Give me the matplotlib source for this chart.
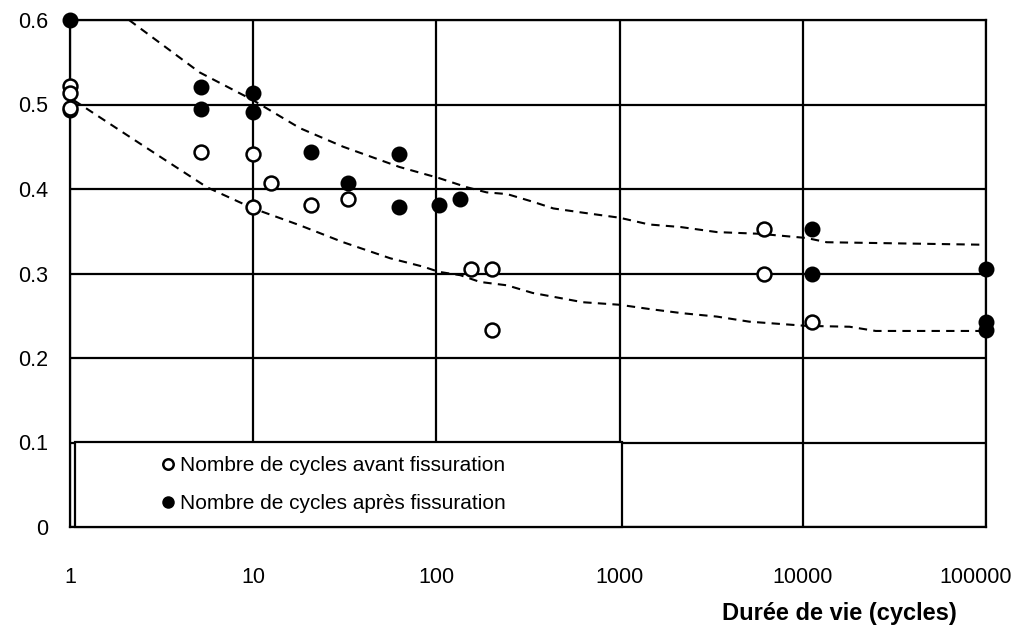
import matplotlib
matplotlib.use('Agg')
import matplotlib.pyplot as plt
import matplotlib.transforms as mtransforms

# Points: number of cycles before cracking (open circles)
avant_x = [1, 1, 1, 5.2, 10, 12.5, 10, 20.7, 33, 155, 201, 201, 6150, 6150, 11200]
avant_y = [0.522, 0.514, 0.496, 0.444, 0.441, 0.407, 0.379, 0.381, 0.388,
           0.305, 0.305, 0.233, 0.353, 0.299, 0.243]

# Points: number of cycles after cracking (filled circles)
apres_x = [1, 1, 5.2, 5.2, 10, 10, 20.7, 33, 62.5, 62.5, 103, 135,
           11200, 11200, 100000, 100000, 100000]
apres_y = [0.6, 0.494, 0.521, 0.495, 0.514, 0.491, 0.444, 0.407, 0.441,
           0.379, 0.381, 0.388, 0.353, 0.299, 0.305, 0.243, 0.233]

# Dashed envelope curves
haut_x = [2.1, 5.1, 10, 18, 31, 63, 103, 147, 188, 243, 335, 435, 630, 1000,
          1450, 2150, 3400, 5800, 10500, 13500, 100000]
haut_y = [0.6, 0.538, 0.505, 0.472, 0.45, 0.426, 0.413, 0.402, 0.396, 0.394,
          0.385, 0.377, 0.372, 0.366, 0.358, 0.355, 0.349, 0.347, 0.342,
          0.337, 0.334]
bas_x = [1.05, 2.4, 5.6, 10, 18, 31, 56, 85, 103, 135, 173, 243, 335, 630,
         1000, 1450, 2200, 3400, 5100, 10500, 18000, 25000, 100000]
bas_y = [0.505, 0.454, 0.402, 0.377, 0.357, 0.337, 0.318, 0.308, 0.302,
         0.298, 0.29, 0.286, 0.277, 0.266, 0.263, 0.258, 0.253, 0.249,
         0.243, 0.238, 0.237, 0.232, 0.232]

x_ticks = [1, 10, 100, 1000, 10000, 100000]
x_labels = ['1', '10', '100', '1000', '10000', '100000']
y_ticks = [0, 0.1, 0.2, 0.3, 0.4, 0.5, 0.6]
y_labels = ['0', '0.1', '0.2', '0.3', '0.4', '0.5', '0.6']


def main():
    plt.rcParams['font.family'] = ['Liberation Sans', 'DejaVu Sans']

    fig = plt.figure(figsize=(10.19, 6.28), dpi=100)
    ax = fig.add_axes([70 / 1019, 1 - 527 / 628, 916 / 1019, 507 / 628])

    ax.set_xscale('log')
    ax.set_xlim(1, 100000)
    ax.set_ylim(0, 0.6)

    dash = (0, (4, 3))
    ax.plot(haut_x, haut_y, color='black', lw=1.5, linestyle=dash, zorder=2)
    ax.plot(bas_x, bas_y, color='black', lw=1.5, linestyle=dash, zorder=2)

    ax.plot(apres_x, apres_y, 'o', color='black', markersize=10,
            markeredgewidth=1.5, clip_on=False, zorder=3,
            label='Nombre de cycles après fissuration')
    ax.plot(avant_x, avant_y, 'o', markerfacecolor='white',
            markeredgecolor='black', markersize=10, markeredgewidth=1.8,
            clip_on=False, zorder=4,
            label='Nombre de cycles avant fissuration')

    ax.set_xticks(x_ticks)
    ax.set_xticklabels(x_labels)
    ax.xaxis.set_minor_locator(matplotlib.ticker.NullLocator())
    ax.set_yticks(y_ticks)
    ax.set_yticklabels(y_labels)
    ax.tick_params(axis='both', length=0, labelsize=15.5)
    ax.tick_params(axis='x', pad=29)
    ax.tick_params(axis='y', pad=16)

    # last x label is pulled left a bit so it stays inside the picture
    last = ax.get_xticklabels()[-1]
    last.set_transform(last.get_transform() +
                       mtransforms.ScaledTranslation(-10 / 100, 0, fig.dpi_scale_trans))

    ax.grid(True, color='black', linewidth=1.6)
    ax.set_axisbelow(True)
    for s in ax.spines.values():
        s.set_color('black')
        s.set_linewidth(1.6)

    lbl = ax.set_xlabel('Durée de vie (cycles)', fontsize=17, fontweight='bold')
    lbl.set_va('center')
    ax.xaxis.set_label_coords(0.8395, -0.17)

    handles, labels = ax.get_legend_handles_labels()
    leg = ax.legend(handles[::-1], labels[::-1], loc='lower left',
                    bbox_to_anchor=(5 / 916, 0, 547 / 916, 0.2), mode='expand',
                    borderaxespad=0, fontsize=15, borderpad=0.65,
                    handlelength=7.64, handletextpad=-3.24, labelspacing=0.94,
                    markerscale=0.75, fancybox=False, framealpha=1,
                    edgecolor='black', facecolor='white')
    leg.get_frame().set_linewidth(1.6)
    leg.set_zorder(5)

    fig.savefig('out.png', dpi=100)


if __name__ == "__main__":
    main()
